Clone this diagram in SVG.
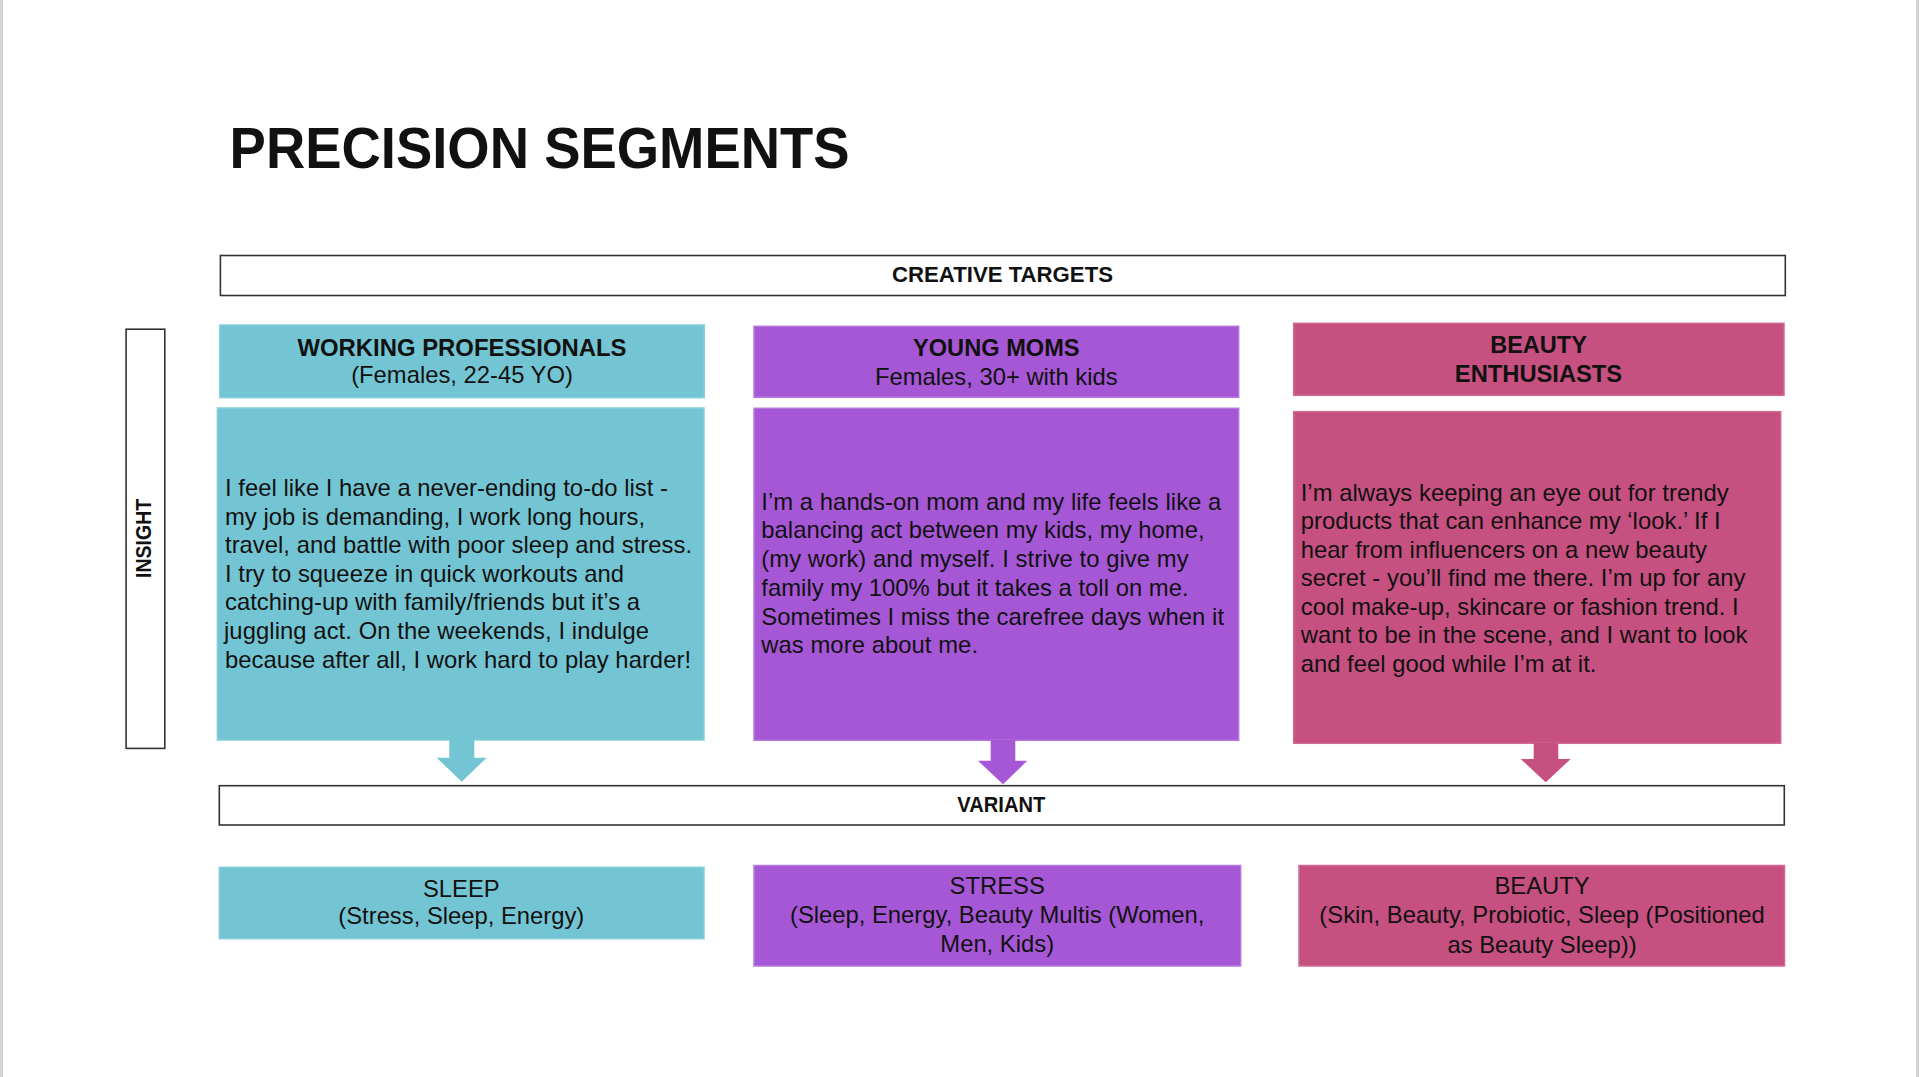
<svg xmlns="http://www.w3.org/2000/svg" width="1920" height="1077" viewBox="0 0 1920 1077">
<style>
  text { font-family: "Liberation Sans", Arial, Helvetica, sans-serif; fill: #111; }
  .title { font-size: 57.5px; font-weight: bold; }
  .lbl { font-size: 22.5px; font-weight: bold; text-anchor: middle; }
  .hd { font-size: 24.5px; font-weight: bold; text-anchor: middle; }
  .sub { font-size: 23.8px; text-anchor: middle; }
  .body { font-size: 23.8px; }
  .frame { fill: #fff; stroke: #333; stroke-width: 1.6; }
  .teal { fill: #74C5D3; stroke: #86CEDB; stroke-width: 1.5; }
  .purple { fill: #A657D6; stroke: #B579DE; stroke-width: 1.5; }
  .pink { fill: #C6507F; stroke: #D06A93; stroke-width: 1.5; }
  .ateal { fill: #74C5D3; }
  .apurple { fill: #A657D6; }
  .apink { fill: #C6507F; }
</style>
<rect x="0" y="0" width="1920" height="1077" fill="#fff"/>
<line x1="1.5" y1="0" x2="1.5" y2="1077" stroke="#d4d4d4" stroke-width="3"/>
<line x1="1917.5" y1="0" x2="1917.5" y2="1077" stroke="#d4d4d4" stroke-width="3"/>

<text id="title" class="title" x="229.6" y="168" textLength="620" lengthAdjust="spacingAndGlyphs">PRECISION SEGMENTS</text>

<g id="creative-targets">
  <rect class="frame" x="220.4" y="255.5" width="1564.9" height="40"/>
  <text class="lbl" x="1002.5" y="282.3" textLength="221" lengthAdjust="spacingAndGlyphs">CREATIVE TARGETS</text>
</g>

<g id="insight">
  <rect class="frame" x="126.1" y="329.2" width="38.7" height="419.2"/>
  <text class="lbl" transform="translate(151.4 538.4) rotate(-90)" x="0" y="0" textLength="79" lengthAdjust="spacingAndGlyphs">INSIGHT</text>
</g>

<g id="working-professionals">
  <rect class="teal" x="219.8" y="325" width="484.4" height="72.7"/>
  <text class="hd" x="462" y="355.7" textLength="329" lengthAdjust="spacingAndGlyphs">WORKING PROFESSIONALS</text>
  <text class="sub" x="462" y="383.4">(Females, 22-45 YO)</text>
</g>

<g id="working-professionals-insight">
  <rect class="teal" x="217.4" y="408" width="486.6" height="332"/>
  <text class="body" x="225" y="496" textLength="443">I feel like I have a never-ending to-do list -</text>
  <text class="body" x="225" y="524.6" textLength="420">my job is demanding, I work long hours,</text>
  <text class="body" x="225" y="553.2" textLength="467">travel, and battle with poor sleep and stress.</text>
  <text class="body" x="225" y="581.8" textLength="399">I try to squeeze in quick workouts and</text>
  <text class="body" x="225" y="610.4" textLength="415">catching-up with family/friends but it’s a</text>
  <text class="body" x="224" y="639" textLength="425">juggling act. On the weekends, I indulge</text>
  <text class="body" x="225" y="667.6" textLength="466">because after all, I work hard to play harder!</text>
</g>

<g id="young-moms">
  <rect class="purple" x="754" y="326.3" width="484.7" height="71"/>
  <text class="hd" x="996.3" y="356" textLength="166.7" lengthAdjust="spacingAndGlyphs">YOUNG MOMS</text>
  <text class="sub" x="996.3" y="385">Females, 30+ with kids</text>
</g>

<g id="young-moms-insight">
  <rect class="purple" x="754" y="408.3" width="484.7" height="332"/>
  <text class="body" x="761.3" y="509.7" textLength="460">I’m a hands-on mom and my life feels like a</text>
  <text class="body" x="761.3" y="538.4" textLength="443.3">balancing act between my kids, my home,</text>
  <text class="body" x="761.3" y="567.1" textLength="427.3">(my work) and myself. I strive to give my</text>
  <text class="body" x="761.3" y="595.8" textLength="427.3">family my 100% but it takes a toll on me.</text>
  <text class="body" x="761.3" y="624.5" textLength="462.7">Sometimes I miss the carefree days when it</text>
  <text class="body" x="761.3" y="653.2" textLength="216.7">was more about me.</text>
</g>

<g id="beauty-enthusiasts">
  <rect class="pink" x="1293.7" y="323.3" width="490.3" height="72"/>
  <text class="hd" x="1538.5" y="353.3" textLength="96.7" lengthAdjust="spacingAndGlyphs">BEAUTY</text>
  <text class="hd" x="1538.5" y="381.7" textLength="167.3" lengthAdjust="spacingAndGlyphs">ENTHUSIASTS</text>
</g>

<g id="beauty-enthusiasts-insight">
  <rect class="pink" x="1293.7" y="411.7" width="487" height="331.6"/>
  <text class="body" x="1300.7" y="500.7" textLength="428">I’m always keeping an eye out for trendy</text>
  <text class="body" x="1300.7" y="529.2" textLength="420">products that can enhance my ‘look.’ If I</text>
  <text class="body" x="1300.7" y="557.7" textLength="406.3">hear from influencers on a new beauty</text>
  <text class="body" x="1300.7" y="586.2" textLength="444.7">secret - you’ll find me there. I’m up for any</text>
  <text class="body" x="1300.7" y="614.7" textLength="438">cool make-up, skincare or fashion trend. I</text>
  <text class="body" x="1300.7" y="643.2" textLength="446.7">want to be in the scene, and I want to look</text>
  <text class="body" x="1300.7" y="671.7" textLength="295.7">and feel good while I’m at it.</text>
</g>

<g id="connectors">
  <polygon class="ateal" points="449.3,739 474.3,739 474.3,757.7 486.7,757.7 461.7,781.7 436.7,757.7 449.3,757.7"/>
  <polygon class="apurple" points="990.7,740 1015.3,740 1015.3,760.7 1027.3,760.7 1003,784.3 978,760.7 990.7,760.7"/>
  <polygon class="apink" points="1533.7,743 1558.3,743 1558.3,759 1570.7,759 1545.7,782.3 1520.7,759 1533.7,759"/>
</g>

<g id="variant">
  <rect class="frame" x="219.3" y="785.7" width="1565" height="39.3"/>
  <text class="lbl" x="1001.3" y="811.7" textLength="88" lengthAdjust="spacingAndGlyphs">VARIANT</text>
</g>

<g id="sleep">
  <rect class="teal" x="219.3" y="867.3" width="484.7" height="71.4"/>
  <text class="sub" x="461.3" y="896.7">SLEEP</text>
  <text class="sub" x="461.3" y="924">(Stress, Sleep, Energy)</text>
</g>

<g id="stress">
  <rect class="purple" x="754" y="865.5" width="486.7" height="100.5"/>
  <text class="sub" x="997.2" y="894">STRESS</text>
  <text class="sub" x="997.2" y="923.3">(Sleep, Energy, Beauty Multis (Women,</text>
  <text class="sub" x="997.2" y="951.7">Men, Kids)</text>
</g>

<g id="beauty">
  <rect class="pink" x="1299" y="865.5" width="485.5" height="100.5"/>
  <text class="sub" x="1542" y="894.3">BEAUTY</text>
  <text class="sub" x="1542" y="923.3">(Skin, Beauty, Probiotic, Sleep (Positioned</text>
  <text class="sub" x="1542" y="952.5">as Beauty Sleep))</text>
</g>
</svg>
